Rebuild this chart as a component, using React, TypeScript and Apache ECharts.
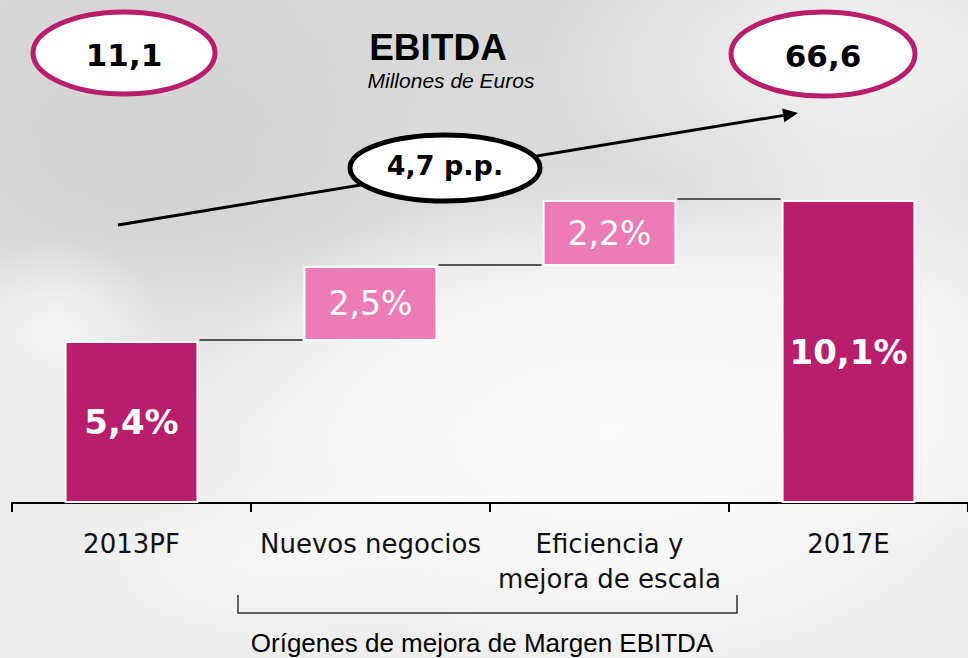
import React, { useEffect, useRef } from "react";
import * as echarts from "echarts";

const categories = ["2013PF", "Nuevos negocios", "Eficiencia y\nmejora de escala", "2017E"];
const marginValues = [5.4, 2.5, 2.2, 10.1];
const isTotal = [true, false, false, true];
const ebitdaStart = "11,1";
const ebitdaEnd = "66,6";
const deltaLabel = "4,7 p.p.";
const titleText = "EBITDA";
const subtitleText = "Millones de Euros";
const groupText = "Orígenes de mejora de Margen EBITDA";

const DARK = "#B81E6C";
const PINK = "#EC7CB5";

export default function App() {
  const ref = useRef<HTMLDivElement>(null);
  useEffect(() => {
    document.body.style.margin = "0";
    const chart = echarts.init(ref.current!, undefined, { renderer: "svg" });

    const bases: number[] = [];
    const levels: number[] = [];
    let cum = 0;
    marginValues.forEach((v, i) => {
      if (isTotal[i]) {
        bases.push(0);
        cum = v;
      } else {
        bases.push(cum);
        cum += v;
      }
      levels.push(cum);
    });
    const connectorData = levels.slice(0, -1).map((lv, i) => [i, lv]);
    const fmt = (v: number) => v.toFixed(1).replace(".", ",") + "%";
    const BAR_FRAC = 0.56;

    const barData = marginValues.map((v, i) => {
      const total = isTotal[i];
      const label: any = {
        show: true,
        formatter: fmt(v),
        color: "#fff",
        fontFamily: "DejaVu Sans",
        fontSize: total ? 34 : 33,
        fontWeight: total ? "bold" : "normal",
        position: "inside",
      };
      if (i === marginValues.length - 1) {
        label.position = ["50%", 152];
        label.align = "center";
        label.verticalAlign = "middle";
      }
      return {
        value: v,
        itemStyle: { color: total ? DARK : PINK, borderColor: "#fff", borderWidth: 2 },
        label,
      };
    });

    const ax1 = 118, ay1 = 225, ax2 = 798, ay2 = 113;
    const dx = ax2 - ax1, dy = ay2 - ay1;
    const len = Math.sqrt(dx * dx + dy * dy);
    const ux = dx / len, uy = dy / len;
    const hl = 15, hw = 7;
    const bx = ax2 - ux * hl, by = ay2 - uy * hl;

    chart.setOption({
      animation: false,
      grid: { left: 12, width: 960, top: 143, bottom: 155 },
      xAxis: {
        type: "category",
        data: categories,
        axisLine: { show: true, lineStyle: { color: "#000", width: 2 } },
        axisTick: { show: true, length: 9, lineStyle: { color: "#000", width: 2 } },
        axisLabel: {
          color: "#111",
          fontFamily: "DejaVu Sans",
          fontSize: 26,
          lineHeight: 35,
          margin: 23,
          interval: 0,
        },
      },
      yAxis: { type: "value", min: 0, max: 12, show: false, splitLine: { show: false } },
      series: [
        {
          type: "bar",
          stack: "w",
          data: bases,
          barWidth: BAR_FRAC * 100 + "%",
          itemStyle: { color: "transparent" },
          silent: true,
        },
        {
          type: "bar",
          stack: "w",
          data: barData,
          barWidth: BAR_FRAC * 100 + "%",
        },
        {
          type: "custom",
          data: connectorData,
          renderItem: (params: any, api: any) => {
            const i = api.value(0);
            const lv = api.value(1);
            const p1 = api.coord([i, lv]);
            const p2 = api.coord([i + 1, lv]);
            const bw = api.size([1, 0])[0] * BAR_FRAC;
            return {
              type: "line",
              shape: { x1: p1[0] + bw / 2 + 1, y1: p1[1] - 1, x2: p2[0] - bw / 2 - 1, y2: p2[1] - 1 },
              style: { stroke: "#555", lineWidth: 2 },
            };
          },
          z: 1,
        },
      ],
      graphic: [
        {
          type: "line",
          shape: { x1: ax1, y1: ay1, x2: bx + ux * 2, y2: by + uy * 2 },
          style: { stroke: "#000", lineWidth: 3 },
          z: 10,
        },
        {
          type: "polygon",
          shape: {
            points: [
              [ax2, ay2],
              [bx - uy * hw, by + ux * hw],
              [bx + uy * hw, by - ux * hw],
            ],
          },
          style: { fill: "#000" },
          z: 10,
        },
        {
          type: "ellipse",
          shape: { cx: 124, cy: 53, rx: 91, ry: 41 },
          style: { fill: "#fff", stroke: DARK, lineWidth: 5 },
          z: 11,
        },
        {
          type: "text",
          x: 124,
          y: 55,
          style: { text: ebitdaStart, fill: "#000", font: "bold 31px 'DejaVu Sans'", align: "center", verticalAlign: "middle" },
          z: 12,
        },
        {
          type: "ellipse",
          shape: { cx: 823, cy: 54, rx: 92, ry: 42 },
          style: { fill: "#fff", stroke: DARK, lineWidth: 5 },
          z: 11,
        },
        {
          type: "text",
          x: 823,
          y: 56,
          style: { text: ebitdaEnd, fill: "#000", font: "bold 31px 'DejaVu Sans'", align: "center", verticalAlign: "middle" },
          z: 12,
        },
        {
          type: "ellipse",
          shape: { cx: 445, cy: 168, rx: 95, ry: 33 },
          style: { fill: "#fff", stroke: "#000", lineWidth: 5 },
          z: 11,
        },
        {
          type: "text",
          x: 445,
          y: 165,
          style: { text: deltaLabel, fill: "#000", font: "bold 27px 'DejaVu Sans'", align: "center", verticalAlign: "middle" },
          z: 12,
        },
        {
          type: "text",
          x: 438,
          y: 47,
          style: { text: titleText, fill: "#000", font: "bold 37px 'Liberation Sans'", align: "center", verticalAlign: "middle" },
          z: 12,
        },
        {
          type: "text",
          x: 451,
          y: 80,
          style: { text: subtitleText, fill: "#000", font: "italic 21px 'Liberation Sans'", align: "center", verticalAlign: "middle" },
          z: 12,
        },
        {
          type: "polyline",
          shape: { points: [[238, 595], [238, 613], [737, 613], [737, 595]] },
          style: { stroke: "#333", lineWidth: 1.5, fill: "none" },
          z: 10,
        },
        {
          type: "text",
          x: 482,
          y: 643,
          style: { text: groupText, fill: "#000", font: "26px 'Liberation Sans'", align: "center", verticalAlign: "middle" },
          z: 12,
        },
      ],
    });
    return () => chart.dispose();
  }, []);

  const bg = [
    "radial-gradient(ellipse 430px 250px at 610px 430px, rgba(251,251,251,1) 0%, rgba(250,250,250,0.85) 55%, rgba(250,250,250,0) 100%)",
    "radial-gradient(ellipse 260px 220px at 880px 330px, rgba(248,248,248,0.95) 0%, rgba(248,248,248,0) 100%)",
    "radial-gradient(ellipse 110px 90px at 55px 330px, rgba(246,246,246,0.95) 0%, rgba(246,246,246,0) 100%)",
    "radial-gradient(ellipse 200px 90px at 270px 560px, rgba(248,248,248,0.9) 0%, rgba(248,248,248,0) 100%)",
    "radial-gradient(ellipse 320px 170px at 860px 60px, rgba(245,245,245,0.95) 0%, rgba(245,245,245,0) 100%)",
    "radial-gradient(ellipse 300px 200px at 150px 150px, rgba(208,208,208,0.8) 0%, rgba(208,208,208,0) 100%)",
    "linear-gradient(180deg, #d8d8d8 0%, #dcdcdc 35%, #ececec 65%, #eeeeee 100%)",
  ].join(",");

  return (
    <div
      ref={ref}
      style={{ position: "absolute", left: 0, top: 0, width: 968, height: 658, background: bg }}
    />
  );
}
